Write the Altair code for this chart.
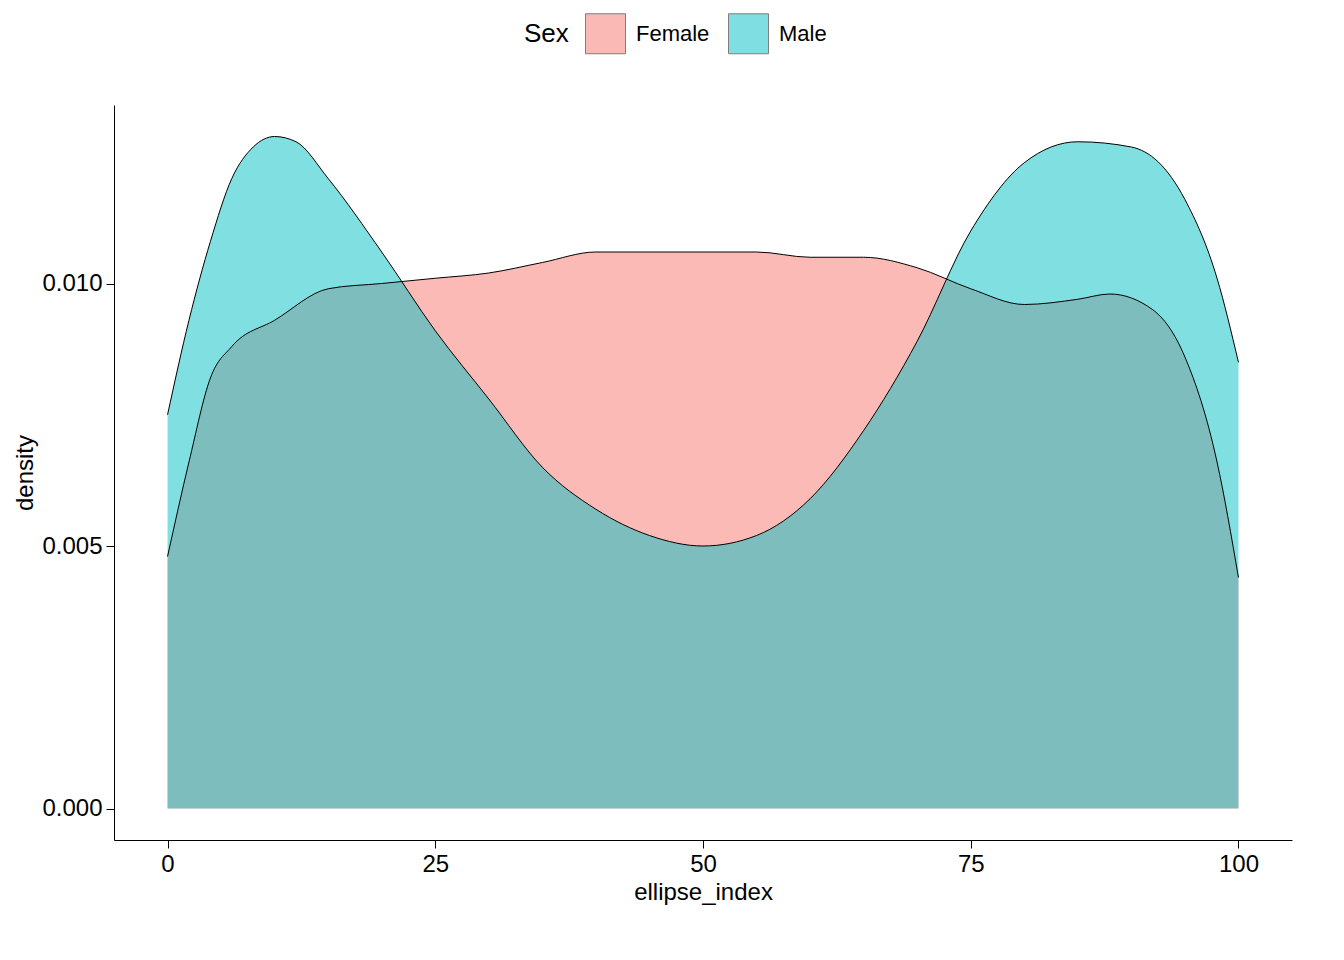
import altair as alt
import pandas as pd

x_female = [0, 2, 4, 6, 10, 15, 20, 25, 30, 35, 40, 50, 55, 60, 65, 70, 75, 80, 85, 88, 92, 95, 98, 100]
y_female = [0.0048, 0.0066, 0.0082, 0.0088, 0.0093, 0.0099, 0.0100, 0.0101, 0.0102, 0.0104, 0.0106, 0.0106,
            0.0106, 0.0105, 0.0105, 0.0103, 0.0099, 0.0096, 0.0097, 0.0098, 0.0095, 0.0086, 0.0066, 0.0044]
x_male = [0, 2, 4, 6, 8, 10, 12, 15, 20, 25, 30, 35, 40, 45, 50, 55, 60, 65, 70, 75, 80, 85, 90, 95, 98, 100]
y_male = [0.0075, 0.0093, 0.0108, 0.0120, 0.0126, 0.0128, 0.0127, 0.0120, 0.0106, 0.0091, 0.0078, 0.0065,
          0.0057, 0.0052, 0.0050, 0.0052, 0.0059, 0.0072, 0.0089, 0.0110, 0.0123, 0.0127, 0.0126, 0.0116,
          0.0101, 0.0085]

df = pd.concat([
    pd.DataFrame({'ellipse_index': x_female, 'density': y_female, 'Sex': 'Female', 'o': 0}),
    pd.DataFrame({'ellipse_index': x_male, 'density': y_male, 'Sex': 'Male', 'o': 1}),
])

x = alt.X('ellipse_index:Q', scale=alt.Scale(domain=[-5, 105], nice=False),
          axis=alt.Axis(values=[0, 25, 50, 75, 100], title='ellipse_index'))
y = alt.Y('density:Q', scale=alt.Scale(domain=[-0.0006, 0.0134], nice=False), stack=None,
          axis=alt.Axis(values=[0, 0.005, 0.01], format='.3f', title='density'))

base = alt.Chart(df)
area = base.mark_area(opacity=0.5, interpolate='monotone').encode(
    x=x, y=y,
    color=alt.Color('Sex:N', scale=alt.Scale(domain=['Female', 'Male'], range=['#F8766D', '#00BFC4']),
                    legend=alt.Legend(orient='none', legendX=410, legendY=-92,
                                      direction='horizontal', titleOrient='left',
                                      symbolType='square', symbolSize=1600, symbolOpacity=0.5,
                                      symbolStrokeColor='black', symbolStrokeWidth=1,
                                      labelFontSize=22, titleFontSize=26, titleFontWeight='normal',
                                      labelColor='black', titleColor='black', columnPadding=16,
                                      titlePadding=16, labelOffset=10)),
    order='o:Q',
    detail='Sex:N',
)
line = base.mark_line(color='black', strokeWidth=1, interpolate='monotone').encode(
    x=x, y=y, detail='Sex:N')

chart = (area + line).properties(width=1178, height=735).configure_view(stroke=None).configure_axis(
    grid=False, domainColor='black', tickColor='black', labelColor='black', titleColor='black',
    labelFontSize=24, titleFontSize=24, titleFontWeight='normal', labelFont='Liberation Sans',
    titleFont='Liberation Sans', tickSize=8, labelPadding=4
).configure_legend(labelFont='Liberation Sans', titleFont='Liberation Sans')

chart.save('out.html', embed_options={'renderer': 'svg', 'actions': False})
